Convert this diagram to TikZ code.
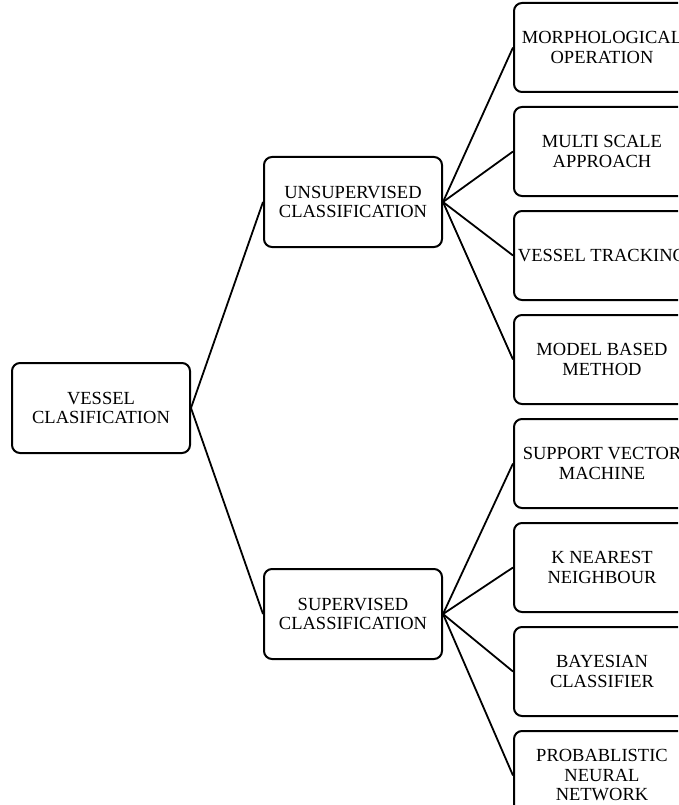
\documentclass[tikz,border=0pt]{standalone}
\usepackage{fontspec}
\setmainfont{Liberation Serif}
\usetikzlibrary{positioning}
\tikzstyle{block} = [rectangle, draw, rounded corners=8pt, line width=2pt, minimum width=178pt, minimum height=90pt, font=\fontsize{18.5}{19.5}\selectfont]
\tikzstyle{leaf} = [block, minimum width=176pt, minimum height=89pt]

\begin{document}
\begin{tikzpicture}[x=1pt, y=1pt, every text node part/.style={align=center}]
   \useasboundingbox (0,0) rectangle (678,-805);
   \clip (0,0) rectangle (678,-805);
   % Place nodes
   \node [block] (vc) at (101,-408) {VESSEL\\CLASIFICATION};
   \node [block, above right = 114pt and 72pt of vc] (unsup) {UNSUPERVISED\\CLASSIFICATION};
   \node [block, below right = 114pt and 72pt of vc] (sup) {SUPERVISED\\CLASSIFICATION};
   % unsupervised methods
   \node [leaf, above right = 63pt and 70pt of unsup] (morph) {MORPHOLOGICAL\\OPERATION};
   \node [leaf, below = 13pt of morph] (multi) {MULTI SCALE\\APPROACH};
   \node [leaf, below = 13pt of multi] (track) {VESSEL TRACKING};
   \node [leaf, below = 13pt of track] (model) {MODEL BASED\\METHOD};
   % supervised methods
   \node [leaf, below = 13pt of model] (svm) {SUPPORT VECTOR\\MACHINE};
   \node [leaf, below = 13pt of svm] (knn) {K NEAREST\\NEIGHBOUR};
   \node [leaf, below = 13pt of knn] (bayes) {BAYESIAN\\CLASSIFIER};
   \node [leaf, below = 13pt of bayes] (pnn) {PROBABLISTIC\\NEURAL\\NETWORK};
   % connectors
   \draw[line width=1.8pt] (vc.east) -- (unsup.west);
   \draw[line width=1.8pt] (vc.east) -- (sup.west);
   \draw[line width=1.8pt] (unsup.east) -- (morph.west);
   \draw[line width=1.8pt] (unsup.east) -- (multi.west);
   \draw[line width=1.8pt] (unsup.east) -- (track.west);
   \draw[line width=1.8pt] (unsup.east) -- (model.west);
   \draw[line width=1.8pt] (sup.east) -- (svm.west);
   \draw[line width=1.8pt] (sup.east) -- (knn.west);
   \draw[line width=1.8pt] (sup.east) -- (bayes.west);
   \draw[line width=1.8pt] (sup.east) -- (pnn.west);
\end{tikzpicture}
\end{document}
